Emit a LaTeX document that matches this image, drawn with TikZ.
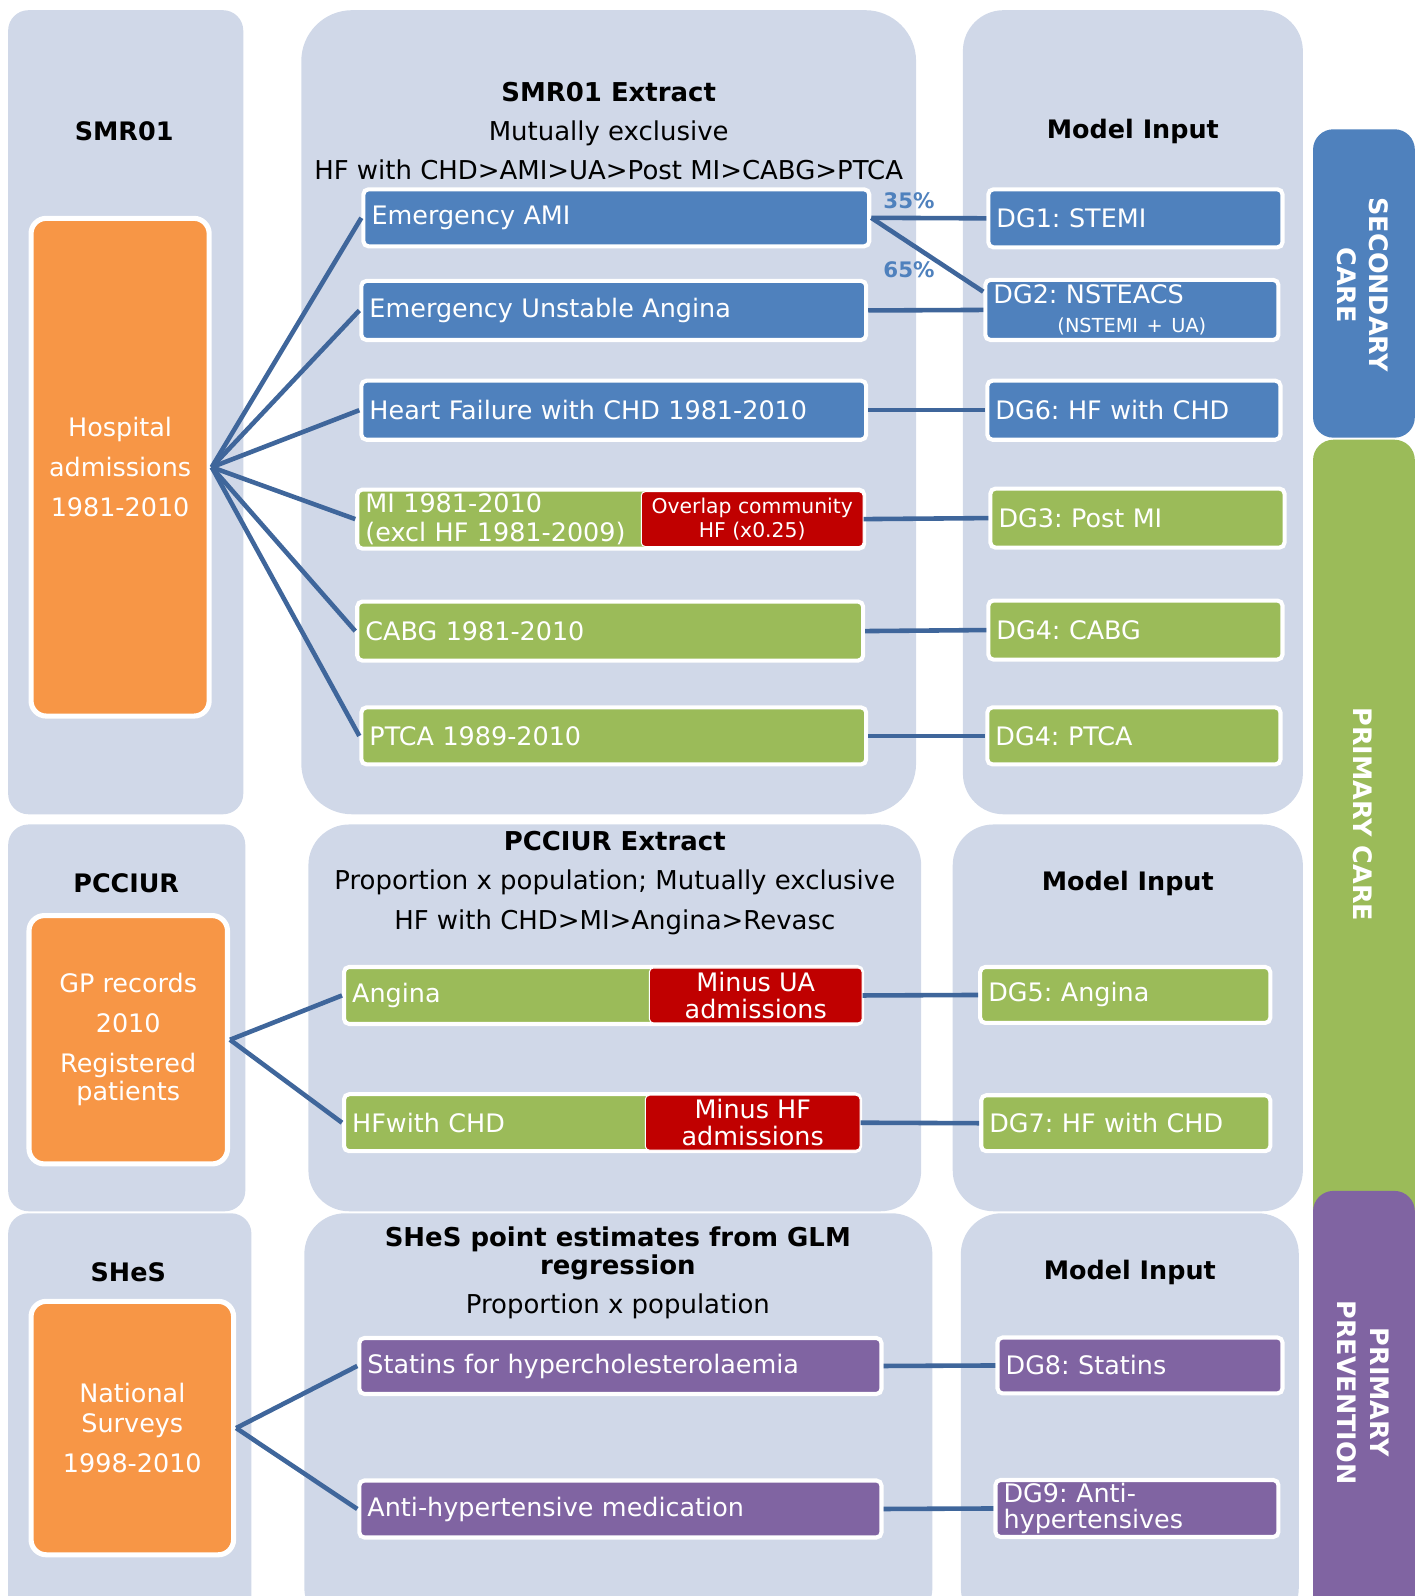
\documentclass[tikz,border=0pt]{standalone}
\usepackage{fontspec}
\setmainfont{DejaVu Sans}
\usepackage{tikz}
\frenchspacing

\definecolor{panelbg}{HTML}{D0D8E8}
\definecolor{cblue}{HTML}{4F81BD}
\definecolor{cgreen}{HTML}{9BBB59}
\definecolor{cred}{HTML}{C00000}
\definecolor{cpurple}{HTML}{8064A2}
\definecolor{corange}{HTML}{F79646}
\definecolor{cline}{HTML}{3F669B}

\begin{document}
\begin{tikzpicture}[x=1pt,y=-1pt,
	bgpanel/.style={fill=panelbg, rounded corners=#1},
	box/.style={draw=white, line width=4pt, rounded corners=5pt, text=white, align=left, inner xsep=8pt, inner ysep=2pt, font=\fontsize{25}{29}\selectfont},
	bluebox/.style={box, fill=cblue},
	greenbox/.style={box, fill=cgreen},
	purplebox/.style={box, fill=cpurple},
	redbox/.style={fill=cred, draw=white, line width=1pt, rounded corners=4pt, text=white, align=center, inner sep=0pt},
	srcbox/.style={fill=corange, draw=white, line width=5pt, rounded corners=15pt, text=white, align=center, font=\fontsize{25}{39}\selectfont},
	head/.style={font=\bfseries\fontsize{25}{30}\selectfont},
	subhead/.style={align=center, font=\fontsize{25.5}{38.5}\selectfont},
	sidebar/.style={rounded corners=20pt},
	sidetext/.style={rotate=-90, text=white, align=center, font=\bfseries\fontsize{25}{32}\selectfont},
	pct/.style={text=cblue, font=\bfseries\fontsize{21}{24}\selectfont},
	link/.style={draw=cline, line width=4.5pt}]
	%\draw[help lines] (0,0) grid[step=100] (1397,1568);
	\useasboundingbox (0,0) rectangle (1397,1568);
	\clip (0,0) rectangle (1397,1568);

	% panels
	\fill[bgpanel=20pt] (8,10) rectangle (239,800);
	\fill[bgpanel=50pt] (296,10) rectangle (900,800);
	\fill[bgpanel=40pt] (946,10) rectangle (1280,800);
	\fill[bgpanel=20pt] (8,810) rectangle (241,1190);
	\fill[bgpanel=40pt] (303,810) rectangle (905,1190);
	\fill[bgpanel=40pt] (936,810) rectangle (1280,1190);
	\fill[bgpanel=20pt] (8,1192) rectangle (247,1600);
	\fill[bgpanel=40pt] (299,1192) rectangle (916,1600);
	\fill[bgpanel=40pt] (944,1192) rectangle (1276,1600);

	% side bars
	\fill[cgreen, sidebar] (1290,432) rectangle (1390,1220);
	\fill[cblue, sidebar] (1290,127) rectangle (1390,430);
	\fill[cpurple, sidebar] (1290,1170) rectangle (1390,1600);
	\node[sidetext] (sec) at (1339,280) {SECONDARY\\CARE};
	\node[sidetext] (prim) at (1339,800) {PRIMARY CARE};
	\node[sidetext] (prev) at (1339,1368) {PRIMARY\\PREVENTION};

	% headings
	\node[head] (smr) at (122,129) {SMR01};
	\node[subhead] (smrx) at (598,129) {\textbf{SMR01 Extract}\\Mutually exclusive\\HF with CHD>AMI>UA>Post MI>CABG>PTCA};
	\node[head] (mod1) at (1113,129) {Model Input};
	\node[head] (pcc) at (124,868) {PCCIUR};
	\node[subhead] (pccx) at (604,867.5) {\textbf{PCCIUR Extract}\\Proportion x population; Mutually exclusive\\HF with CHD>MI>Angina>Revasc};
	\node[head] (mod2) at (1108,868) {Model Input};
	\node[head] (shes) at (126,1250) {SHeS};
	\node[subhead] (shesx) at (607,1250.5) {\textbf{SHeS point estimates from GLM}\\[-11pt]\textbf{regression}\\Proportion x population};
	\node[head] (mod3) at (1110,1250) {Model Input};

	% sources
	\node[srcbox, minimum width=175pt, minimum height=489pt] (hosp) at (118,459) {Hospital\\admissions\\1981-2010};
	\node[srcbox, minimum width=195pt, minimum height=244pt] (gp) at (126,1021.5) {GP records\\2010\\Registered\\[-11pt]patients};
	\node[srcbox, minimum width=199pt, minimum height=249pt] (nat) at (130,1403) {National\\[-10pt]Surveys\\1998-2010};

	% SMR01 extract
	\node[bluebox, minimum width=497pt, minimum height=56pt, text width=481pt] (ami) at (605.5,214) {Emergency AMI};
	\node[bluebox, minimum width=496pt, minimum height=58pt, text width=480pt] (ua) at (603,305) {Emergency Unstable Angina};
	\node[bluebox, minimum width=496pt, minimum height=58pt, text width=480pt] (hf) at (603,403) {Heart Failure with CHD 1981-2010};
	\node[greenbox, minimum width=498pt, minimum height=58pt, text width=482pt, font=\fontsize{25}{28}\selectfont] (mi) at (600,510) {MI 1981-2010\\(excl HF 1981-2009)};
	\node[redbox, minimum width=218pt, minimum height=54pt, font=\fontsize{20}{23}\selectfont] (ovl) at (739,510) {Overlap community\\HF (x0.25)};
	\node[greenbox, minimum width=497pt, minimum height=58pt, text width=481pt] (cabg) at (599.5,620) {CABG 1981-2010};
	\node[greenbox, minimum width=496pt, minimum height=56pt, text width=480pt] (ptca) at (603,723) {PTCA 1989-2010};

	\node[pct] (p35) at (893,197) {35\%};
	\node[pct] (p65) at (893,265) {65\%};

	% model input 1
	\node[bluebox, minimum width=289pt, minimum height=57pt, text width=273pt] (dg1) at (1115.5,214.5) {DG1: STEMI};
	\node[bluebox, minimum width=288pt, minimum height=59pt, text width=272pt] (dg2) at (1112,304.5) {DG2: NSTEACS\\[0pt]\makebox[272pt]{\fontsize{19}{22}\selectfont(NSTEMI + UA)}};
	\node[bluebox, minimum width=288pt, minimum height=58pt, text width=272pt] (dg6) at (1114,403) {DG6: HF with CHD};
	\node[greenbox, minimum width=289pt, minimum height=58pt, text width=273pt] (dg3) at (1117.5,509) {DG3: Post MI};
	\node[greenbox, minimum width=289pt, minimum height=58pt, text width=273pt] (dg4a) at (1115.5,619) {DG4: CABG};
	\node[greenbox, minimum width=288pt, minimum height=56pt, text width=272pt] (dg4b) at (1114,723) {DG4: PTCA};

	% PCCIUR extract
	\node[greenbox, minimum width=509pt, minimum height=56pt, text width=493pt] (angina) at (592.5,978) {Angina};
	\node[redbox, minimum width=209pt, minimum height=54pt, font=\fontsize{25}{27}\selectfont] (minusua) at (742.5,978) {Minus UA\\admissions};
	\node[greenbox, minimum width=507pt, minimum height=56pt, text width=491pt] (hfchd) at (591.5,1103) {HFwith CHD};
	\node[redbox, minimum width=211pt, minimum height=54pt, font=\fontsize{25}{27}\selectfont] (minushf) at (739.5,1103) {Minus HF\\admissions};
	\node[greenbox, minimum width=285pt, minimum height=55pt, text width=269pt] (dg5) at (1105.5,977.5) {DG5: Angina};
	\node[greenbox, minimum width=284pt, minimum height=55pt, text width=268pt] (dg7) at (1106,1103.5) {DG7: HF with CHD};

	% SHeS
	\node[purplebox, minimum width=513pt, minimum height=55pt, text width=497pt] (statins) at (609.5,1342) {Statins for hypercholesterolaemia};
	\node[purplebox, minimum width=513pt, minimum height=56pt, text width=497pt] (antihyp) at (609.5,1482.5) {Anti-hypertensive medication};
	\node[purplebox, minimum width=280pt, minimum height=55pt, text width=264pt] (dg8) at (1120,1341.5) {DG8: Statins};
	\node[purplebox, minimum width=278pt, minimum height=56pt, text width=262pt, font=\fontsize{25}{26}\selectfont] (dg9) at (1117,1482) {DG9: Anti-\\hypertensives};

	% links
	\draw[link] (hosp.east) -- (ami.west);
	\draw[link] (hosp.east) -- (ua.west);
	\draw[link] (hosp.east) -- (hf.west);
	\draw[link] (hosp.east) -- (mi.west);
	\draw[link] (hosp.east) -- (cabg.west);
	\draw[link] (hosp.east) -- (ptca.west);
	\draw[link] (ami.east) -- (dg1.west);
	\draw[link] (ami.east) -- (dg2.173);
	\draw[link] (ua.east) -- (dg2.west);
	\draw[link] (hf.east) -- (dg6.west);
	\draw[link] (ovl.east) -- (dg3.west);
	\draw[link] (cabg.east) -- (dg4a.west);
	\draw[link] (ptca.east) -- (dg4b.west);
	\draw[link] (gp.east) -- (angina.west);
	\draw[link] (gp.east) -- (hfchd.west);
	\draw[link] (minusua.east) -- (dg5.west);
	\draw[link] (minushf.east) -- (dg7.west);
	\draw[link] (nat.east) -- (statins.west);
	\draw[link] (nat.east) -- (antihyp.west);
	\draw[link] (statins.east) -- (dg8.west);
	\draw[link] (antihyp.east) -- (dg9.west);
\end{tikzpicture}
\end{document}
